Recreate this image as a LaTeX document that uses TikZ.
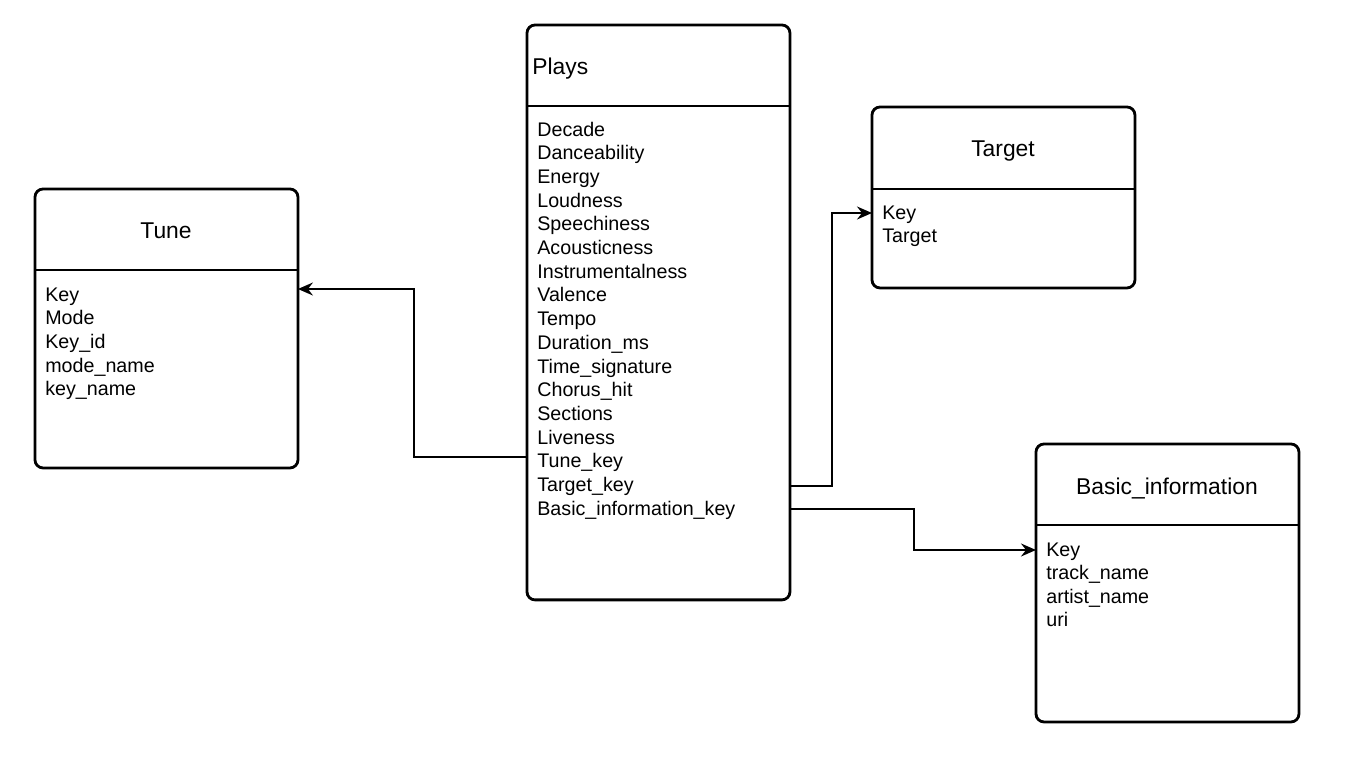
\documentclass[tikz,border=0pt]{standalone}
\usepackage{fontspec}
\setmainfont{Liberation Sans}
\usetikzlibrary{arrows.meta,calc}

\begin{document}
\begin{tikzpicture}[x=0.02cm,y=-0.02cm,
  entity/.style={draw, line width=1.6pt, rounded corners=0.16cm, inner sep=0pt, outer sep=0pt, anchor=north west},
  header/.style={line width=1.6pt},
  title/.style={font=\fontsize{13}{15.6}\selectfont, anchor=base, inner sep=0pt},
  attr/.style={font=\fontsize{11.2}{13.4}\selectfont, anchor=base west, inner sep=0pt},
  link/.style={line width=0.85pt, -{Stealth[length=3mm,width=2.6mm,inset=1mm]}}]

  \useasboundingbox (0,0) rectangle (1353,767);

  % entity boxes
  \node[entity, minimum width=5.26cm, minimum height=11.5cm] (plays) at (527,25) {};
  \node[entity, minimum width=5.26cm, minimum height=5.58cm] (tune) at (35,189) {};
  \node[entity, minimum width=5.26cm, minimum height=3.62cm] (target) at (872,107) {};
  \node[entity, minimum width=5.26cm, minimum height=5.56cm] (basic) at (1036,444) {};

  % header lines
  \draw[header] (plays.west |- 0,106) -- (plays.east |- 0,106);
  \draw[header] (tune.west |- 0,270) -- (tune.east |- 0,270);
  \draw[header] (target.west |- 0,189) -- (target.east |- 0,189);
  \draw[header] (basic.west |- 0,525) -- (basic.east |- 0,525);

  % titles
  \node[title, anchor=base west] (plays-title) at (532,75) {Plays};
  \node[title] (tune-title) at (166,238) {Tune};
  \node[title] (target-title) at (1003,156) {Target};
  \node[title] (basic-title) at (1167,494) {Basic\_information};

  % attributes
  \foreach \t [count=\i] in {Decade,Danceability,Energy,Loudness,Speechiness,
      Acousticness,Instrumentalness,Valence,Tempo,Duration\_ms,Time\_signature,
      Chorus\_hit,Sections,Liveness,Tune\_key,Target\_key,Basic\_information\_key}
    \node[attr] (plays-\i) at (537,{136+(\i-1)*23.7}) {\t};
  \foreach \t [count=\i] in {Key,Mode,Key\_id,mode\_name,key\_name}
    \node[attr] (tune-\i) at (45,{301+(\i-1)*23.7}) {\t};
  \foreach \t [count=\i] in {Key,Target}
    \node[attr] (target-\i) at (882,{219+(\i-1)*23.5}) {\t};
  \foreach \t [count=\i] in {Key,track\_name,artist\_name,uri}
    \node[attr] (basic-\i) at (1046,{556+(\i-1)*23.5}) {\t};

  % connectors
  \draw[link] (plays.west |- 0,457) -| (414,373) |- (tune.east |- 0,289);
  \draw[link] (plays.east |- 0,486) -| (832,350) |- (target.west |- 0,213);
  \draw[link] (plays.east |- 0,509) -| (914,530) |- (basic.west |- 0,550);
\end{tikzpicture}
\end{document}
